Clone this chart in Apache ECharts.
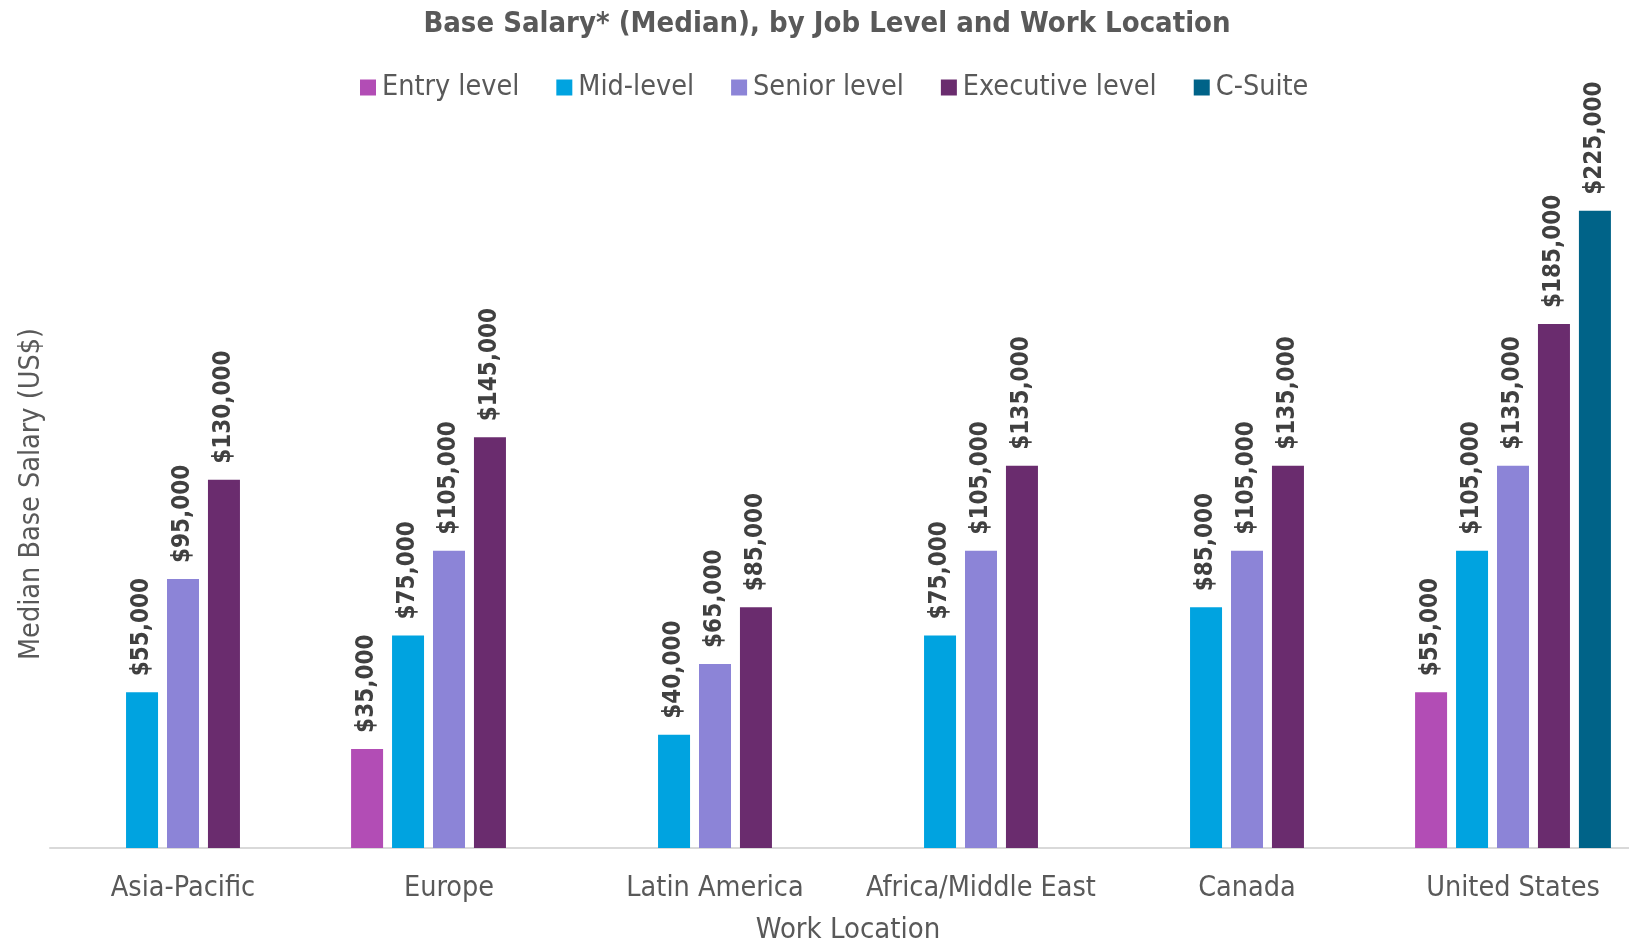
<!DOCTYPE html>
<html>
<head>
<meta charset="utf-8">
<script src="https://cdn.jsdelivr.net/npm/echarts@6/dist/echarts.min.js"></script>
<style>
html,body{margin:0;padding:0;background:#fff;}
#chart{width:1629px;height:942px;}
</style>
</head>
<body>
<div id="chart"></div>
<script>
const categories = ['Asia-Pacific', 'Europe', 'Latin America', 'Africa/Middle East', 'Canada', 'United States'];
const seriesNames = ['Entry level', 'Mid-level', 'Senior level', 'Executive level', 'C-Suite'];
const entryLevel = [null, 35000, null, null, null, 55000];
const midLevel = [55000, 75000, 40000, 75000, 85000, 105000];
const seniorLevel = [95000, 105000, 65000, 105000, 105000, 135000];
const executiveLevel = [130000, 145000, 85000, 135000, 135000, 185000];
const cSuite = [null, null, null, null, null, 225000];
const colors = ['#B24DB5', '#00A3E0', '#8C84D7', '#6A2C6E', '#006388'];

const FONT = "'DejaVu Sans Condensed', 'DejaVu Sans', sans-serif";
const dataSets = [entryLevel, midLevel, seniorLevel, executiveLevel, cSuite];

const chart = echarts.init(document.getElementById('chart'), null, {renderer: 'canvas'});
const fmt = v => '$' + Number(v).toLocaleString('en-US');

chart.setOption({
  animation: false,
  backgroundColor: '#ffffff',
  color: colors,
  title: {
    text: 'Base Salary* (Median), by Job Level and Work Location',
    left: 822,
    textAlign: 'center',
    top: 5,
    textStyle: {fontFamily: FONT, fontSize: 29, fontWeight: 'bold', color: '#595959'}
  },
  legend: {
    data: seriesNames,
    left: 355,
    top: 68,
    itemWidth: 16,
    itemHeight: 16,
    itemGap: 37,
    icon: 'rect',
    textStyle: {fontFamily: FONT, fontSize: 28.5, color: '#595959', padding: [0, 0, 0, 1]}
  },
  grid: {left: 50, width: 1596, top: 140, bottom: 94, containLabel: false, outerBoundsMode: 'none'},
  xAxis: {
    type: 'category',
    data: categories,
    name: 'Work Location',
    nameLocation: 'middle',
    nameGap: 68,
    nameTextStyle: {fontFamily: FONT, fontSize: 29, color: '#595959'},
    axisLine: {lineStyle: {color: '#D9D9D9', width: 2}},
    axisTick: {show: false},
    axisLabel: {fontFamily: FONT, fontSize: 28.5, color: '#595959', margin: 26, interval: 0}
  },
  yAxis: {
    type: 'value',
    min: 0,
    max: 250000,
    name: 'Median Base Salary (US$)',
    nameLocation: 'middle',
    nameRotate: 90,
    nameGap: 4,
    nameTextStyle: {fontFamily: FONT, fontSize: 28.5, color: '#595959'},
    axisLine: {show: false},
    axisTick: {show: false},
    axisLabel: {show: false},
    splitLine: {show: false}
  },
  series: seriesNames.map((name, i) => ({
    name: name,
    type: 'bar',
    data: dataSets[i],
    barWidth: 32,
    barGap: '28%',
    itemStyle: {color: colors[i]},
    label: {
      show: true,
      position: 'top',
      rotate: 90,
      align: 'left',
      verticalAlign: 'middle',
      distance: 16,
      formatter: p => fmt(p.value),
      fontFamily: FONT,
      fontSize: 24,
      fontWeight: 'bold',
      color: '#404040'
    }
  }))
});
</script>
</body>
</html>
